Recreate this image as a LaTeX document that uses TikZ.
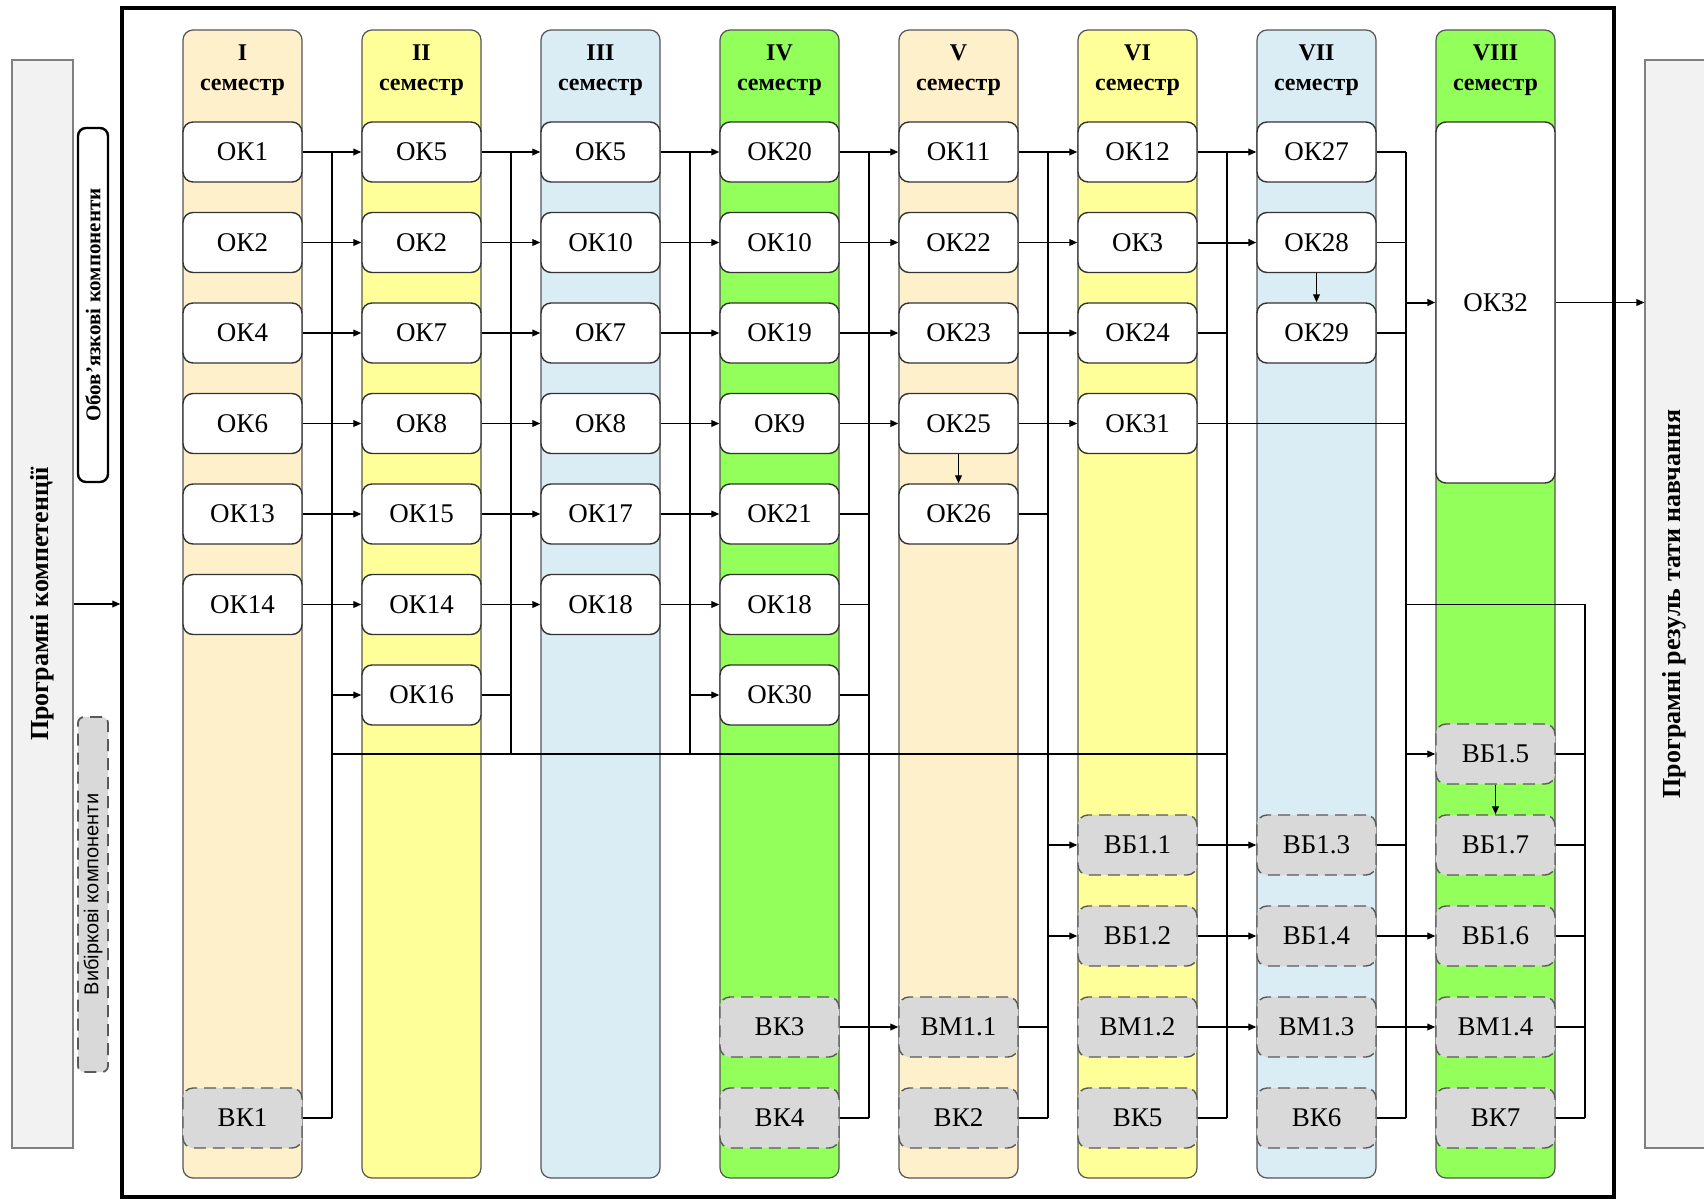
\documentclass[tikz,border=0pt]{standalone}
\usepackage{fontspec}
\setmainfont{Liberation Serif}
\newfontfamily\sidesans{Liberation Sans}
\usetikzlibrary{
    arrows.meta,
    positioning
}
\definecolor{lanepeach}{RGB}{255,240,204}
\definecolor{laneyellow}{RGB}{255,255,153}
\definecolor{laneblue}{RGB}{218,236,244}
\definecolor{lanegreen}{RGB}{146,255,90}
\definecolor{electgray}{RGB}{217,217,217}
\definecolor{sidegray}{RGB}{242,242,242}
\definecolor{edgegray}{RGB}{85,85,85}

\begin{document}
\begin{tikzpicture}[
    x=0.5pt, y=-0.5pt,
    lane/.style={rounded corners=5pt, draw=edgegray, line width=0.6pt},
    header/.style={font=\rmfamily\bfseries\fontsize{12}{15}\selectfont, align=center},
    course/.style={rectangle, rounded corners=5pt, draw=black!80, line width=0.7pt, fill=white, minimum width=59.5pt, minimum height=30pt, inner sep=0pt, font=\rmfamily\fontsize{13.5}{14}\selectfont},
    elective/.style={course, fill=electgray, draw=black!65, dash pattern=on 6pt off 3.5pt},
    sidebox/.style={rectangle, draw=black!50, line width=0.6pt, fill=sidegray, inner sep=0pt},
    sidetext/.style={rotate=90, font=\rmfamily\bfseries\fontsize{13}{15}\selectfont},
    link/.style={line width=0.65pt},
    arrow/.style={-{Triangle[length=4pt, width=3.4pt]}, line width=0.65pt}
]
\useasboundingbox (0,0) rectangle (1704,1199);

% === SIDE BOXES ===
\node[sidebox, minimum width=30.5pt, minimum height=544pt] (comp) at (42.5,604) {};
\node[sidetext] (comptext) at (comp.center) {Програмні компетенції};
\node[sidebox, minimum width=32.5pt, minimum height=544pt] (res) at (1677.5,604) {};
\node[sidetext] (restext) at (1674,604) {Програмні резуль тати навчання};

\node[draw, line width=1.2pt, rounded corners=4pt, fill=white, minimum width=15pt, minimum height=177pt, inner sep=0pt] (oblbox) at (93,305) {};
\node[rotate=90, font=\rmfamily\bfseries\fontsize{10.5}{12}\selectfont] (obltext) at (oblbox.center) {Обов'язкові компоненти};
\node[draw=black!65, dash pattern=on 6pt off 3.5pt, line width=0.9pt, rounded corners=3pt, fill=electgray, minimum width=15pt, minimum height=177.5pt, inner sep=0pt] (vibbox) at (93,894.5) {};
\node[rotate=90, font=\sidesans\fontsize{10}{12}\selectfont] (vibtext) at (vibbox.center) {Вибіркові компоненти};

% === FRAME ===
\node[draw, line width=1.7pt, minimum width=746pt, minimum height=594.5pt, inner sep=0pt] (frame) at (868,602.5) {};

% === SEMESTER LANES ===
\draw[lane, fill=lanepeach] (183,30) rectangle (302,1178);
\draw[lane, fill=laneyellow] (362,30) rectangle (481,1178);
\draw[lane, fill=laneblue] (541,30) rectangle (660,1178);
\draw[lane, fill=lanegreen] (720,30) rectangle (839,1178);
\draw[lane, fill=lanepeach] (899,30) rectangle (1018,1178);
\draw[lane, fill=laneyellow] (1078,30) rectangle (1197,1178);
\draw[lane, fill=laneblue] (1257,30) rectangle (1376,1178);
\draw[lane, fill=lanegreen] (1436,30) rectangle (1555,1178);

\node[header] (h1) at (242.5,70) {I\\семестр};
\node[header] (h2) at (421.5,70) {II\\семестр};
\node[header] (h3) at (600.5,70) {III\\семестр};
\node[header] (h4) at (779.5,70) {IV\\семестр};
\node[header] (h5) at (958.5,70) {V\\семестр};
\node[header] (h6) at (1137.5,70) {VI\\семестр};
\node[header] (h7) at (1316.5,70) {VII\\семестр};
\node[header] (h8) at (1495.5,70) {VIII\\семестр};

% Semester I
\node[course] (s1ok1) at (242.5,152) {ОК1};
\node[course] (s1ok2) at (242.5,242.5) {ОК2};
\node[course] (s1ok4) at (242.5,333) {ОК4};
\node[course] (s1ok6) at (242.5,423.5) {ОК6};
\node[course] (s1ok13) at (242.5,514) {ОК13};
\node[course] (s1ok14) at (242.5,604.5) {ОК14};
\node[elective] (s1vk1) at (242.5,1118) {ВК1};

% Semester II
\node[course] (s2ok5) at (421.5,152) {ОК5};
\node[course] (s2ok2) at (421.5,242.5) {ОК2};
\node[course] (s2ok7) at (421.5,333) {ОК7};
\node[course] (s2ok8) at (421.5,423.5) {ОК8};
\node[course] (s2ok15) at (421.5,514) {ОК15};
\node[course] (s2ok14) at (421.5,604.5) {ОК14};
\node[course] (s2ok16) at (421.5,695) {ОК16};

% Semester III
\node[course] (s3ok5) at (600.5,152) {ОК5};
\node[course] (s3ok10) at (600.5,242.5) {ОК10};
\node[course] (s3ok7) at (600.5,333) {ОК7};
\node[course] (s3ok8) at (600.5,423.5) {ОК8};
\node[course] (s3ok17) at (600.5,514) {ОК17};
\node[course] (s3ok18) at (600.5,604.5) {ОК18};

% Semester IV
\node[course] (s4ok20) at (779.5,152) {ОК20};
\node[course] (s4ok10) at (779.5,242.5) {ОК10};
\node[course] (s4ok19) at (779.5,333) {ОК19};
\node[course] (s4ok9) at (779.5,423.5) {ОК9};
\node[course] (s4ok21) at (779.5,514) {ОК21};
\node[course] (s4ok18) at (779.5,604.5) {ОК18};
\node[course] (s4ok30) at (779.5,695) {ОК30};
\node[elective] (s4vk3) at (779.5,1027) {ВК3};
\node[elective] (s4vk4) at (779.5,1118) {ВК4};

% Semester V
\node[course] (s5ok11) at (958.5,152) {ОК11};
\node[course] (s5ok22) at (958.5,242.5) {ОК22};
\node[course] (s5ok23) at (958.5,333) {ОК23};
\node[course] (s5ok25) at (958.5,423.5) {ОК25};
\node[course] (s5ok26) at (958.5,514) {ОК26};
\node[elective] (s5vm11) at (958.5,1027) {ВМ1.1};
\node[elective] (s5vk2) at (958.5,1118) {ВК2};

% Semester VI
\node[course] (s6ok12) at (1137.5,152) {ОК12};
\node[course] (s6ok3) at (1137.5,242.5) {ОК3};
\node[course] (s6ok24) at (1137.5,333) {ОК24};
\node[course] (s6ok31) at (1137.5,423.5) {ОК31};
\node[elective] (s6vb11) at (1137.5,845) {ВБ1.1};
\node[elective] (s6vb12) at (1137.5,936) {ВБ1.2};
\node[elective] (s6vm12) at (1137.5,1027) {ВМ1.2};
\node[elective] (s6vk5) at (1137.5,1118) {ВК5};

% Semester VII
\node[course] (s7ok27) at (1316.5,152) {ОК27};
\node[course] (s7ok28) at (1316.5,242.5) {ОК28};
\node[course] (s7ok29) at (1316.5,333) {ОК29};
\node[elective] (s7vb13) at (1316.5,845) {ВБ1.3};
\node[elective] (s7vb14) at (1316.5,936) {ВБ1.4};
\node[elective] (s7vm13) at (1316.5,1027) {ВМ1.3};
\node[elective] (s7vk6) at (1316.5,1118) {ВК6};

% Semester VIII
\node[course, minimum height=180.5pt] (s8ok32) at (1495.5,302.5) {ОК32};
\node[elective] (s8vb15) at (1495.5,754) {ВБ1.5};
\node[elective] (s8vb17) at (1495.5,845) {ВБ1.7};
\node[elective] (s8vb16) at (1495.5,936) {ВБ1.6};
\node[elective] (s8vm14) at (1495.5,1027) {ВМ1.4};
\node[elective] (s8vk7) at (1495.5,1118) {ВК7};

% === BUS LINES (between lanes) ===
\coordinate (bus1) at (332,0);
\coordinate (bus2) at (511,0);
\coordinate (bus3) at (690,0);
\coordinate (bus4) at (869,0);
\coordinate (bus5) at (1048,0);
\coordinate (bus6) at (1227,0);
\coordinate (bus7) at (1406,0);
\coordinate (rbtop) at (1585,604.5);

% In / out
\draw[arrow] (comp.east) -- (comp.east -| frame.west);
\draw[arrow] (s8ok32.east) -- (s8ok32.east -| res.west);

% I -> II
\draw[arrow] (s1ok1) -- (s2ok5);
\draw[arrow] (s1ok2) -- (s2ok2);
\draw[arrow] (s1ok4) -- (s2ok7);
\draw[arrow] (s1ok6) -- (s2ok8);
\draw[arrow] (s1ok13) -- (s2ok15);
\draw[arrow] (s1ok14) -- (s2ok14);
\draw[arrow] (s2ok16.west -| bus1) -- (s2ok16.west);
\draw[link] (s1ok1.east -| bus1) -- (s1vk1.east -| bus1);
\draw[link] (s1vk1.east) -- (s1vk1.east -| bus1);
\draw[link] (s8vb15.west -| bus1) -- (s8vb15.west -| bus6);

% II -> III
\draw[arrow] (s2ok5) -- (s3ok5);
\draw[arrow] (s2ok2) -- (s3ok10);
\draw[arrow] (s2ok7) -- (s3ok7);
\draw[arrow] (s2ok8) -- (s3ok8);
\draw[arrow] (s2ok15) -- (s3ok17);
\draw[arrow] (s2ok14) -- (s3ok18);
\draw[link] (s2ok16.east) -- (s2ok16.east -| bus2);
\draw[link] (s2ok5.east -| bus2) -- (s8vb15.west -| bus2);

% III -> IV
\draw[arrow] (s3ok5) -- (s4ok20);
\draw[arrow] (s3ok10) -- (s4ok10);
\draw[arrow] (s3ok7) -- (s4ok19);
\draw[arrow] (s3ok8) -- (s4ok9);
\draw[arrow] (s3ok17) -- (s4ok21);
\draw[arrow] (s3ok18) -- (s4ok18);
\draw[arrow] (s4ok30.west -| bus3) -- (s4ok30.west);
\draw[link] (s3ok5.east -| bus3) -- (s8vb15.west -| bus3);

% IV -> V
\draw[arrow] (s4ok20) -- (s5ok11);
\draw[arrow] (s4ok10) -- (s5ok22);
\draw[arrow] (s4ok19) -- (s5ok23);
\draw[arrow] (s4ok9) -- (s5ok25);
\draw[arrow] (s4vk3) -- (s5vm11);
\draw[link] (s4ok21.east) -- (s4ok21.east -| bus4);
\draw[link] (s4ok18.east) -- (s4ok18.east -| bus4);
\draw[link] (s4ok30.east) -- (s4ok30.east -| bus4);
\draw[link] (s4vk4.east) -- (s4vk4.east -| bus4);
\draw[link] (s4ok20.east -| bus4) -- (s4vk4.east -| bus4);
\draw[arrow] (s5ok25) -- (s5ok26);

% V -> VI
\draw[arrow] (s5ok11) -- (s6ok12);
\draw[arrow] (s5ok22) -- (s6ok3);
\draw[arrow] (s5ok23) -- (s6ok24);
\draw[arrow] (s5ok25) -- (s6ok31);
\draw[arrow] (s6vb11.west -| bus5) -- (s6vb11.west);
\draw[arrow] (s6vb12.west -| bus5) -- (s6vb12.west);
\draw[link] (s5ok26.east) -- (s5ok26.east -| bus5);
\draw[link] (s5vm11.east) -- (s5vm11.east -| bus5);
\draw[link] (s5vk2.east) -- (s5vk2.east -| bus5);
\draw[link] (s5ok11.east -| bus5) -- (s5vk2.east -| bus5);

% VI -> VII
\draw[arrow] (s6ok12) -- (s7ok27);
\draw[arrow, line width=1pt] (s6ok3) -- (s7ok28);
\draw[arrow] (s6vb11) -- (s7vb13);
\draw[arrow] (s6vb12) -- (s7vb14);
\draw[arrow] (s6vm12) -- (s7vm13);
\draw[link] (s6ok24.east) -- (s6ok24.east -| bus6);
\draw[link] (s6vk5.east) -- (s6vk5.east -| bus6);
\draw[link] (s6ok12.east -| bus6) -- (s6vk5.east -| bus6);
\draw[link] (s6ok31.east) -- (s6ok31.east -| bus7);
\draw[arrow] (s7ok28) -- (s7ok29);

% VII -> VIII
\draw[link] (s7ok27.east) -- (s7ok27.east -| bus7);
\draw[link] (s7ok28.east) -- (s7ok28.east -| bus7);
\draw[link] (s7ok29.east) -- (s7ok29.east -| bus7);
\draw[link] (s7vb13.east) -- (s7vb13.east -| bus7);
\draw[link] (s7vk6.east) -- (s7vk6.east -| bus7);
\draw[link] (s7ok27.east -| bus7) -- (s7vk6.east -| bus7);
\draw[arrow, line width=1pt] (s8ok32.west -| bus7) -- (s8ok32.west);
\draw[arrow] (s8vb15.west -| bus7) -- (s8vb15.west);
\draw[arrow] (s7vb14) -- (s8vb16);
\draw[arrow] (s7vm13) -- (s8vm14);
\draw[arrow] (s8vb15) -- (s8vb17);

% VIII back to OK32
\draw[link] (rbtop -| bus7) -- (rbtop) -- (s8vk7.east -| rbtop);
\draw[link] (s8vb15.east) -- (s8vb15.east -| rbtop);
\draw[link] (s8vb17.east) -- (s8vb17.east -| rbtop);
\draw[link] (s8vb16.east) -- (s8vb16.east -| rbtop);
\draw[link] (s8vm14.east) -- (s8vm14.east -| rbtop);
\draw[link] (s8vk7.east) -- (s8vk7.east -| rbtop);

\end{tikzpicture}
\end{document}
